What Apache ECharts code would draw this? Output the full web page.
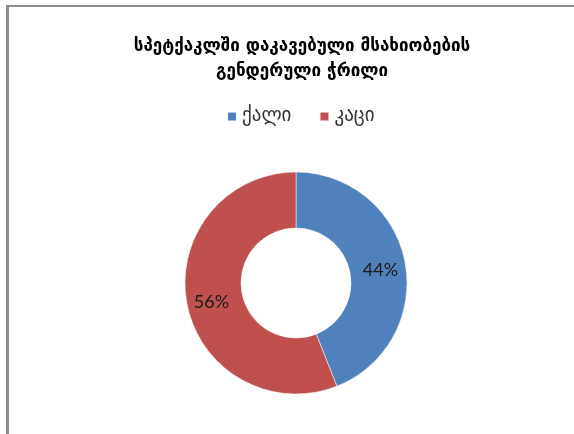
<!DOCTYPE html>
<html>
<head>
<meta charset="utf-8">
<script src="https://cdn.jsdelivr.net/npm/echarts@6/dist/echarts.min.js"></script>
<style>
html,body{margin:0;padding:0;background:#fff;}
#chart{width:574px;height:434px;}
</style>
</head>
<body>
<div id="chart"></div>
<script>
var titleText = 'სპეტქაკლში დაკავებული მსახიობების\nგენდერული ჭრილი';
var categories = ['ქალი', 'კაცი'];
var values = [44, 56];
var colors = ['#4F81BD', '#C0504D'];

var chart = echarts.init(document.getElementById('chart'), null, {renderer: 'canvas'});
var data = categories.map(function (c, i) {
  return {name: c, value: values[i], itemStyle: {color: colors[i]}};
});
chart.setOption({
  backgroundColor: '#ffffff',
  animation: false,
  title: {
    text: titleText,
    left: 297,
    top: 29,
    textAlign: 'center',
    textStyle: {
      fontFamily: 'DejaVu Sans',
      fontSize: 17,
      fontWeight: 'bold',
      color: '#000',
      lineHeight: 25
    }
  },
  legend: {
    data: categories,
    left: 221,
    top: 102,
    itemWidth: 10,
    itemHeight: 10,
    itemGap: 27,
    itemTextGap: 4,
    icon: 'rect',
    textStyle: {fontFamily: 'DejaVu Sans', fontSize: 19, color: '#333'}
  },
  graphic: [
    {type: 'rect', shape: {x: 6, y: 5, width: 574, height: 2}, style: {fill: '#8c8c8c'}},
    {type: 'rect', shape: {x: 6, y: 5, width: 3, height: 430}, style: {fill: '#8c8c8c'}}
  ],
  series: [{
    type: 'pie',
    center: [296, 283],
    radius: [55, 111],
    startAngle: 90,
    clockwise: true,
    data: data,
    itemStyle: {borderColor: '#fff', borderWidth: 0.5},
    label: {
      show: true,
      position: 'inside',
      formatter: '{d}%',
      fontFamily: 'Lato',
      fontSize: 18,
      color: '#1a1a1a',
      offset: [0, 3]
    },
    labelLine: {show: false}
  }]
});
</script>
</body>
</html>
